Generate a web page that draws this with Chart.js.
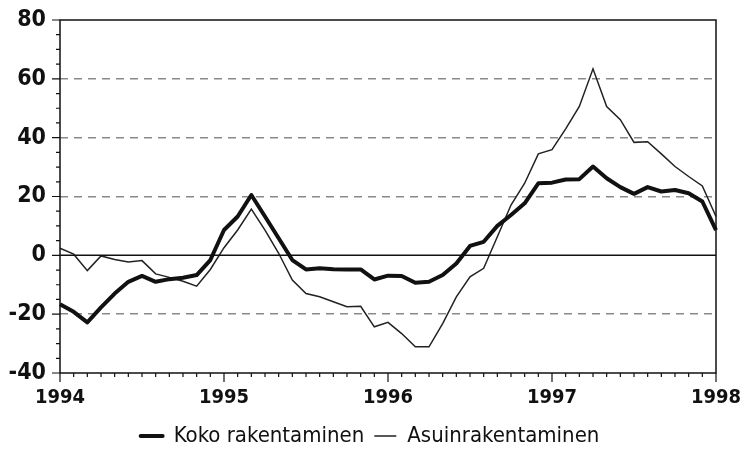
<!DOCTYPE html>
<html>
<head>
<meta charset="utf-8">
<script src="https://cdn.jsdelivr.net/npm/chart.js@4.4.1/dist/chart.umd.min.js"></script>
<style>
  html, body { margin: 0; padding: 0; background: #fff; }
  #wrap { width: 740px; height: 449px; }
</style>
</head>
<body>
<div id="wrap"><canvas id="rakChart"></canvas></div>
<script>
// Months Jan 1994 .. Jan 1998
const months = [];
for (let y = 1994; y <= 1998; y++) {
    for (let m = 1; m <= 12; m++) {
        if (y === 1998 && m > 1) break;
        months.push(y + '-' + String(m).padStart(2, '0'));
    }
}

// Values
const kokoRakentaminen = [
    -16.6, -19.2, -22.8, -17.7, -13.0, -9.0, -7.0, -9.0, -8.1, -7.6, -6.7, -1.6,
    8.6, 13.2, 20.5, 13.2, 5.8, -1.6, -4.8, -4.4, -4.7, -4.8, -4.8, -8.2,
    -6.9, -7.0, -9.3, -9.0, -6.7, -2.8, 3.2, 4.6, 10.0, 13.7, 17.7, 24.5,
    24.7, 25.8, 25.9, 30.2, 26.2, 23.2, 20.9, 23.2, 21.7, 22.2, 21.1, 18.3,
    8.6
];
const asuinRakentaminen = [
    2.4, 0.4, -5.2, -0.2, -1.4, -2.3, -1.8, -6.3, -7.5, -8.8, -10.5, -4.8,
    2.6, 8.6, 15.7, 8.6, 0.7, -8.4, -13.0, -14.1, -15.8, -17.5, -17.3, -24.3,
    -22.8, -26.6, -31.1, -31.1, -23.2, -14.1, -7.3, -4.4, 6.3, 17.1, 24.5, 34.5,
    35.9, 43.0, 50.6, 63.4, 50.6, 46.1, 38.4, 38.6, 34.5, 30.2, 26.8, 23.6,
    13.2
];

const yMin = -40, yMax = 80;
const fontFam = "'Liberation Sans Narrow', 'DejaVu Sans Condensed', 'Arial Narrow', sans-serif";

// frame, zero line and the small tick marks
const axisDecor = {
    id: 'axisDecor',
    afterDatasetsDraw(chart) {
        const ctx = chart.ctx;
        const a = chart.chartArea;
        const xs = chart.scales.x, ys = chart.scales.y;
        ctx.save();
        ctx.strokeStyle = '#111';
        ctx.lineWidth = 1.5;
        // zero line
        const y0 = ys.getPixelForValue(0);
        ctx.beginPath();
        ctx.moveTo(a.left, y0);
        ctx.lineTo(a.right, y0);
        ctx.stroke();
        // frame
        ctx.strokeRect(a.left, a.top, a.right - a.left, a.bottom - a.top);
        // x ticks (months), longer at January
        ctx.lineWidth = 1.2;
        ctx.beginPath();
        for (let i = 0; i < months.length; i++) {
            const px = xs.getPixelForValue(i);
            const len = months[i].endsWith('-01') ? 9 : 4;
            ctx.moveTo(px, a.bottom);
            ctx.lineTo(px, a.bottom + len);
        }
        // y ticks every 5, longer every 20
        for (let v = yMin; v <= yMax; v += 5) {
            const py = ys.getPixelForValue(v);
            const len = v % 20 === 0 ? 8 : 4;
            ctx.moveTo(a.left, py);
            ctx.lineTo(a.left - len, py);
        }
        ctx.stroke();
        ctx.restore();
    }
};

const ctx = document.getElementById('rakChart').getContext('2d');
const rakChart = new Chart(ctx, {
    type: 'line',
    data: {
        labels: months,
        datasets: [
            {
                label: 'Koko rakentaminen',
                data: kokoRakentaminen,
                borderColor: '#111',
                backgroundColor: '#111',
                borderWidth: 4,
                pointRadius: 0,
                tension: 0,
                borderJoinStyle: 'round'
            },
            {
                label: 'Asuinrakentaminen',
                data: asuinRakentaminen,
                borderColor: '#222',
                backgroundColor: '#222',
                borderWidth: 1.5,
                pointRadius: 0,
                tension: 0
            }
        ]
    },
    options: {
        responsive: true,
        maintainAspectRatio: false,
        animation: false,
        layout: {
            padding: { top: 20, right: 0, left: 0, bottom: -8 }
        },
        scales: {
            x: {
                type: 'category',
                offset: false,
                grid: { display: false, drawTicks: false },
                border: { display: false },
                afterFit(scale) {
                    scale.height = 42;
                    scale.paddingLeft = 0;
                    scale.paddingRight = 24;
                },
                ticks: {
                    autoSkip: false,
                    maxRotation: 0,
                    padding: 13,
                    color: '#111',
                    font: { family: fontFam, size: 20, weight: 'bold' },
                    callback: function(val, i) {
                        const lab = months[i];
                        return lab.endsWith('-01') ? lab.slice(0, 4) : '';
                    }
                }
            },
            y: {
                min: yMin,
                max: yMax,
                afterFit(scale) {
                    scale.width = 60;
                    scale.paddingTop = 0;
                    scale.paddingBottom = 0;
                },
                grid: {
                    drawTicks: false,
                    lineWidth: 1.5,
                    color: function(c) {
                        const v = c.tick.value;
                        if (v === 0 || v === yMin || v === yMax) return 'rgba(0,0,0,0)';
                        return v % 20 === 0 ? '#8a8a8a' : 'rgba(0,0,0,0)';
                    }
                },
                border: { display: false, dash: [8, 6] },
                ticks: {
                    stepSize: 5,
                    autoSkip: false,
                    padding: 14,
                    color: '#111',
                    font: { family: fontFam, size: 23, weight: 'bold' },
                    callback: function(v) {
                        return v % 20 === 0 ? String(v) : '';
                    }
                }
            }
        },
        plugins: {
            legend: {
                position: 'bottom',
                labels: {
                    boxWidth: 22,
                    boxHeight: 0,
                    padding: 10,
                    color: '#111',
                    font: { family: fontFam, size: 22 }
                }
            },
            tooltip: { enabled: false },
            title: { display: false }
        }
    },
    plugins: [axisDecor]
});
</script>
</body>
</html>
